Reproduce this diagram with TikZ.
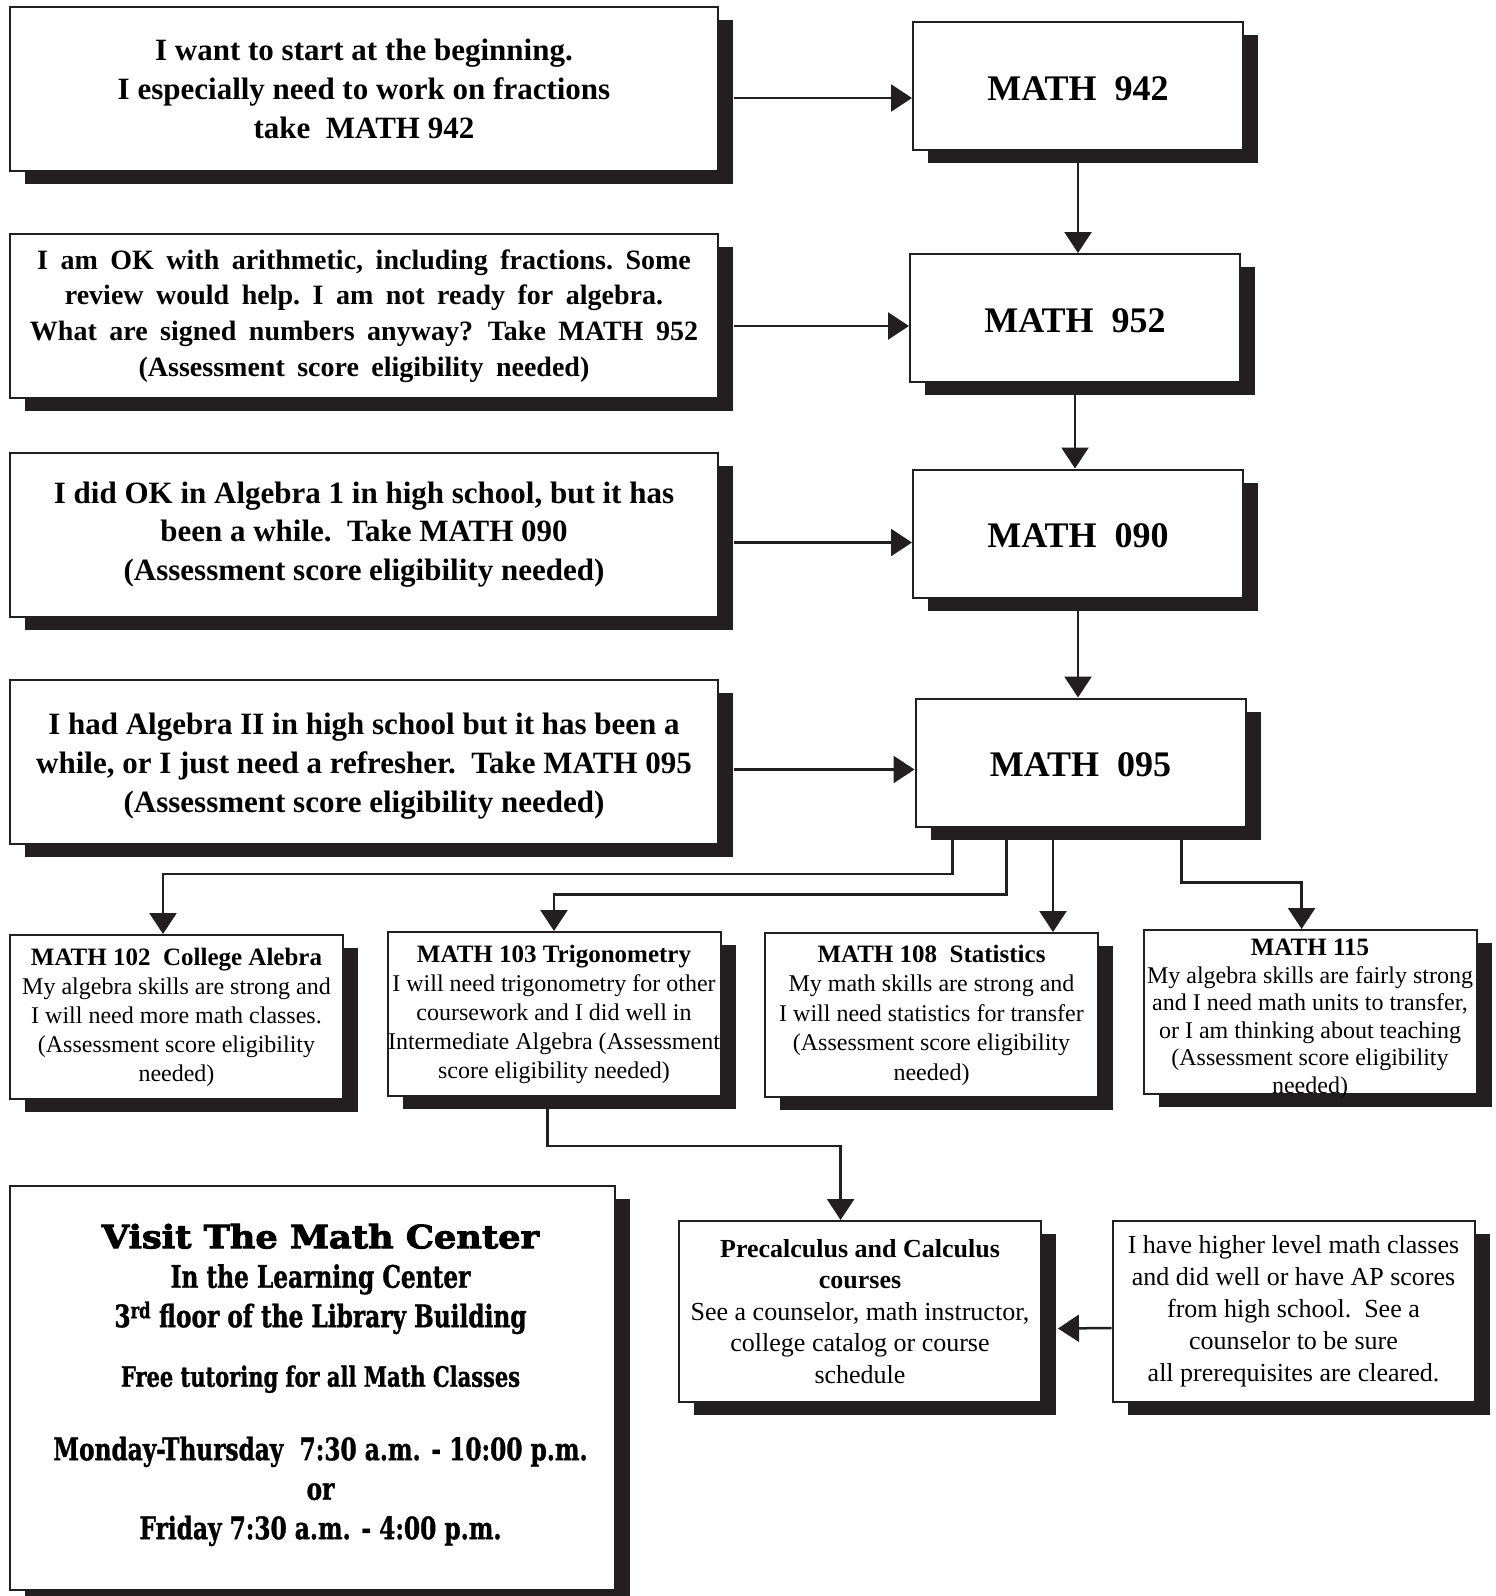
\documentclass[tikz,border=0pt]{standalone}
\usepackage{fontspec}
\setmainfont{Liberation Serif}
\newfontfamily\slabfont[FakeStretch=0.75, FakeBold=1]{DejaVu Serif Bold}
\newfontfamily\heavyfont[FakeStretch=1.1, FakeBold=3]{DejaVu Serif Bold}
\newcommand\widespaces{\spaceskip 12.5pt\relax}
\usepackage{xcolor}
\usetikzlibrary{
    arrows.meta,
    shadows,
    calc,
    positioning
}
\definecolor{ink}{HTML}{231F20}

\begin{document}
\begin{tikzpicture}[x=1pt, y=-1pt,
    box/.style={draw=ink, line width=2pt, fill=white, align=center, inner sep=0pt,
        drop shadow={shadow xshift=15pt, shadow yshift=-13pt, fill=ink, opacity=1}},
    reason/.style={box, minimum width=708pt, minimum height=164pt,
        font=\fontsize{31}{38.7}\selectfont\bfseries},
    course/.style={box, minimum width=330pt, minimum height=128pt, text height=29pt,
        font=\fontsize{36}{40}\selectfont\bfseries},
    option/.style={box, minimum width=333pt, minimum height=164pt,
        font=\fontsize{24}{29}\selectfont},
    note/.style={box, minimum width=362pt, minimum height=181pt,
        font=\fontsize{26}{32}\selectfont},
    flow/.style={draw=ink, line width=2.5pt, -{Triangle[length=21pt, width=27pt]}},
    wire/.style={draw=ink, line width=2.5pt}]
\useasboundingbox (0,0) rectangle (1496,1596);

% what the student says
\node[reason] (a1) at (364,89) {I want to start at the beginning.\\
    I especially need to work on fractions\\ take\ \ MATH 942};
\node[reason, font=\fontsize{28}{35.6}\selectfont\bfseries\widespaces] (a2) at (364,316)
    {I am OK with arithmetic, including fractions.\ Some\\
    review would help.\ I am not ready for algebra.\\
    What are signed numbers anyway? Take MATH 952\\
    (Assessment score eligibility needed)};
\node[reason] (a3) at (364,534.5) {I did OK in Algebra 1 in high school, but it has\\
    been a while.\ \ Take MATH 090\\ (Assessment score eligibility needed)};
\node[reason] (a4) at (364,761.5) {\rule{0pt}{31pt}I had Algebra II in high school but it has been a\\
    while, or I just need a refresher.\ \ Take MATH 095\\
    (Assessment score eligibility needed)};

% the ladder of courses
\node[course] (m942) at (1078,86) {MATH\ \ 942};
\node[course] (m952) at (1075,318) {MATH\ \ 952};
\node[course] (m090) at (1078,533.5) {MATH\ \ 090};
\node[course] (m095) at (1080.5,762.5) {MATH\ \ 095};

% transfer level choices
\node[option] (m102) at (176.5,1017) {{\bfseries\fontsize{25}{30}\selectfont MATH 102\ \ College Alebra}\\
    My algebra skills are strong and\\ I will need more math classes.\\
    (Assessment score eligibility\\ needed)};
\node[option] (m103) at (554,1014)
    {{\bfseries\fontsize{25}{30}\selectfont MATH 103 Trigonometry}\\
    I will need trigonometry for other\\ coursework and I did well in\\
    Intermediate Algebra (Assessment\\ score eligibility needed)};
\node[option, font=\fontsize{24}{29.5}\selectfont] (m108) at (931.5,1015)
    {{\bfseries\fontsize{25}{30}\selectfont MATH 108\ \ Statistics}\\
    My math skills are strong and\\ I will need statistics for transfer\\
    (Assessment score eligibility\\ needed)};
\node[option, font=\fontsize{24}{27.5}\selectfont] (m115) at (1310,1012)
    {{\bfseries\fontsize{25}{28}\selectfont\rule{0pt}{25pt}MATH 115}\\
    My algebra skills are fairly strong\\ and I need math units to transfer,\\
    or I am thinking about teaching\\ (Assessment score eligibility\\ \smash{needed)}};

% after trig
\node[note, font=\fontsize{26}{31.5}\selectfont] (precalc) at (860,1311.5)
    {{\bfseries Precalculus and Calculus}\\ {\bfseries courses}\\
    See a counselor, math instructor,\\ college catalog or course\\ schedule};
\node[note] (higher) at (1293.5,1311) {I have higher level math classes\\
    and did well or have AP scores\\ from high school.\ \ See a\\
    counselor to be sure\\ all prerequisites are cleared.};

% math center
\node[box, minimum width=605pt, minimum height=404pt] (center) at (312.5,1388) {};
\node[align=center, inner sep=0pt, font=\slabfont\fontsize{31}{39.5}\selectfont]
    (hours) at ($(center)+(8,-3)$)
    {{\heavyfont\fontsize{32}{39.5}\selectfont Visit The Math Center}\\
    In the Learning Center\\
    3\textsuperscript{rd} floor of the Library Building\\[20pt]
    {\fontsize{28}{39.5}\selectfont Free tutoring for all Math Classes}\\[34pt]
    Monday-Thursday\ \ 7:30 a.m. - 10:00 p.m.\\
    or\\
    Friday 7:30 a.m. - 4:00 p.m.};

% arrows into the ladder
\draw
    ($(a1.east)+(15,9)$) edge[flow] ($(a1.east -| m942.west)+(0,9)$)
    ($(a2.east)+(15,10)$) edge[flow] ($(a2.east -| m952.west)+(0,10)$)
    ($(a3.east)+(15,8)$) edge[flow] ($(a3.east -| m090.west)+(0,8)$)
    ($(a4.east)+(15,8)$) edge[flow] ($(a4.east -| m095.west)+(0,8)$)
    (m942.south) edge[flow] (m942.south |- m952.north)
    (m952.south) edge[flow] (m952.south |- m090.north)
    (m090.south) edge[flow] (m090.south |- m095.north);

% branches out of MATH 095
\draw[flow] ($(m095.south)+(-128,0)$) |- ($(m102.north)+(-13.5,-60)$) -- ($(m102.north)+(-13.5,0)$);
\draw[flow] ($(m095.south)+(-74,0)$) |- ($(m103.north)+(0,-36.4)$) -- (m103.north);
\draw[flow] ($(m095.south)+(-27.5,0)$) coordinate (b3) -- (b3 |- m108.north);
\draw[flow] ($(m095.south)+(101,0)$) |- ($(m115.north)+(-8.4,-46.6)$) -- ($(m115.north)+(-8.4,0)$);

\draw[flow] ($(m103.south)+(-6.5,0)$) |- ($(precalc.north)+(-19.4,-74)$) -- ($(precalc.north)+(-19.4,0)$);
\draw[flow] ($(higher.west)+(0,17)$) -- ($(precalc.east)+(16,17)$);
\end{tikzpicture}
\end{document}
